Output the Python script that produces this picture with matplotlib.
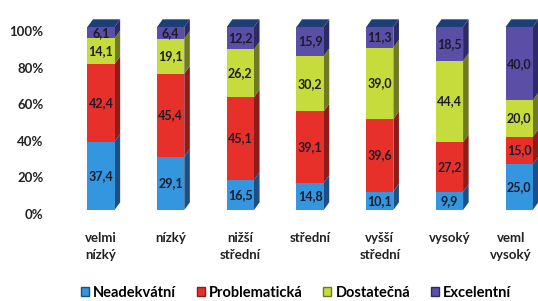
import matplotlib
matplotlib.use("Agg")
import matplotlib.pyplot as plt
from matplotlib.patches import Polygon, Patch
import matplotlib.transforms as mtransforms
import numpy as np

plt.rcParams['font.family'] = ['Lato', 'DejaVu Sans']
plt.rcParams['font.weight'] = 'bold'

categories = ["velmi\nnízký", "nízký", "nižší\nstřední", "střední",
              "vyšší\nstřední", "vysoký", "veml\nvysoký"]
series = ["Neadekvátní", "Problematická", "Dostatečná", "Excelentní"]
neadekvatni = [37.4, 29.1, 16.5, 14.8, 10.1, 9.9, 25.0]
problematicka = [42.4, 45.4, 45.1, 39.1, 39.6, 27.2, 15.0]
dostatecna = [14.1, 19.1, 26.2, 30.2, 39.0, 44.4, 20.0]
excelentni = [6.1, 6.4, 12.2, 15.9, 11.3, 18.5, 40.0]
ytick_vals = [0, 20, 40, 60, 80, 100]

front = ["#3396de", "#e8302b", "#c6dc3c", "#5b4ea6"]
side = ["#1c4f86", "#8e1c1a", "#6f7a22", "#2e2a66"]
top_col = "#1d3f78"
label_col = "#1b1b2b"

fig = plt.figure(figsize=(5.38, 3.01), dpi=100)
ax = fig.add_axes([60/538, 91/301, 478/538, 183/301])
ax.set_xlim(-0.588, 6.27)
ax.set_ylim(0, 100)

x = np.arange(len(categories))
w = 0.39
dx = 0.08
dy = 4.2
data = [neadekvatni, problematicka, dostatecna, excelentni]
bottom = np.zeros(len(categories))
for k, vals in enumerate(data):
    vals = np.array(vals)
    ax.bar(x, vals, w, bottom=bottom, color=front[k], edgecolor='none', zorder=2)
    for i in range(len(x)):
        xr = x[i] + w/2
        b, t = bottom[i], bottom[i] + vals[i]
        ax.add_patch(Polygon([(xr, b), (xr+dx, b+dy), (xr+dx, t+dy), (xr, t)],
                             closed=True, facecolor=side[k], edgecolor='none',
                             zorder=1, clip_on=False))
        ax.text(x[i], b + vals[i]/2, ("%.1f" % vals[i]).replace(".", ","),
                ha='center', va='center', fontsize=9, fontweight='bold',
                color=label_col, zorder=3)
    bottom = bottom + vals

for i in range(len(x)):
    xl = x[i] - w/2
    xr = x[i] + w/2
    t = bottom[i]
    ax.add_patch(Polygon([(xl, t), (xl+dx, t+dy), (xr+dx, t+dy), (xr, t)],
                         closed=True, facecolor=top_col, edgecolor='none',
                         zorder=1, clip_on=False))

for s in ax.spines.values():
    s.set_visible(False)
ax.set_xticks(x)
ax.set_xticklabels(categories, fontsize=9.5, fontweight='bold', color='#222222',
                   linespacing=1.5)
ax.set_yticks(ytick_vals)
ax.set_yticklabels(["%d%%" % v for v in ytick_vals], fontsize=9.5,
                   fontweight='bold', color='#222222')
ax.tick_params(axis='x', length=0, pad=16)
ax.tick_params(axis='y', length=0, pad=12)
off = mtransforms.ScaledTranslation(0, -4/100, fig.dpi_scale_trans)
for lab in ax.get_yticklabels():
    lab.set_transform(lab.get_transform() + off)
# last category label sits a bit left so it stays inside the figure
last = ax.get_xticklabels()[-1]
last.set_transform(last.get_transform() +
                   mtransforms.ScaledTranslation(-8/100, 0, fig.dpi_scale_trans))

handles = [Patch(facecolor=front[k], edgecolor=side[k]) for k in range(4)]
fig.legend(handles, series, loc='center', bbox_to_anchor=(296/538, 1 - 293/301),
           ncol=4, frameon=False, handlelength=0.55, handleheight=0.55,
           handletextpad=0.3, columnspacing=1.4, prop={'weight': 'bold', 'size': 10.5})

plt.savefig("out.png", dpi=100)
plt.close()
